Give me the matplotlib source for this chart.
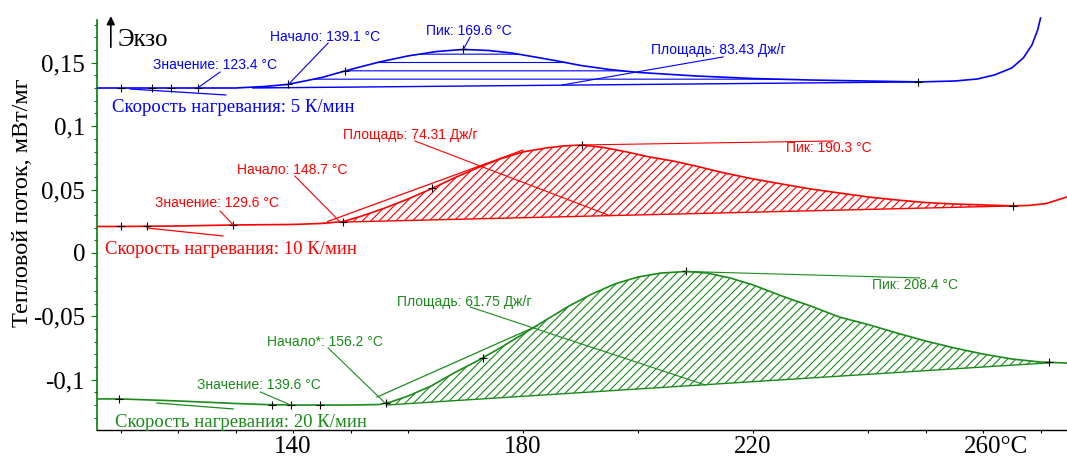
import numpy as np
import matplotlib
matplotlib.use("Agg")
import matplotlib.pyplot as plt

# ---------------- data: DSC curves, heat flow (mW/mg) vs temperature (°C) ----------------
t_5 = [105.9, 110, 120, 130, 135, 139, 142, 145, 149, 152, 155, 160, 165, 169.6, 174, 178,
       182, 186, 190, 195, 200, 210, 220, 230, 240, 249, 255, 259, 262, 265, 267, 268.5,
       269.5, 270]
q_5 = [0.1301, 0.1301, 0.1301, 0.1301, 0.1313, 0.1329, 0.1356, 0.1384, 0.1435, 0.1471,
       0.1506, 0.1554, 0.1589, 0.1605, 0.1597, 0.1577, 0.1546, 0.1514, 0.1479, 0.1447,
       0.1424, 0.1396, 0.1376, 0.1364, 0.1356, 0.1349, 0.1356, 0.1372, 0.1404, 0.1459,
       0.1538, 0.1640, 0.1759, 0.1853]

t_10 = [105.9, 110, 120, 130, 140, 145, 148.7, 152, 156, 160, 164, 168, 172, 176, 180, 184,
        187, 190.3, 194, 198, 202, 206, 210, 215, 220, 225, 230, 235, 240, 245, 250, 255,
        260, 265.2, 268, 271, 274.6]
q_10 = [0.0209, 0.0209, 0.0213, 0.0221, 0.0225, 0.0233, 0.0248, 0.0292, 0.0355, 0.0426,
        0.0505, 0.0591, 0.0670, 0.0741, 0.0797, 0.0828, 0.0844, 0.0852, 0.0832, 0.0797,
        0.0757, 0.0726, 0.0686, 0.0631, 0.0584, 0.0544, 0.0505, 0.0473, 0.0442, 0.0418,
        0.0398, 0.0386, 0.0379, 0.0371, 0.0375, 0.0390, 0.0442]

t_20 = [105.9, 110, 120, 130, 135, 140, 150, 155, 157, 160, 164, 168, 172, 176, 180, 184,
        188, 192, 196, 200, 204, 208.4, 212, 216, 220, 225, 230, 235, 240, 245, 250, 255,
        260, 265, 270, 274.6]
q_20 = [-0.1151, -0.1151, -0.1167, -0.1187, -0.1195, -0.1199, -0.1199, -0.1195, -0.1175,
        -0.1128, -0.1049, -0.0946, -0.0852, -0.0749, -0.0639, -0.0528, -0.0418, -0.0323,
        -0.0244, -0.0189, -0.0158, -0.0146, -0.0158, -0.0197, -0.0252, -0.0339, -0.0418,
        -0.0505, -0.0564, -0.0631, -0.0694, -0.0749, -0.0797, -0.0836, -0.0860, -0.0868]

# characteristic temperatures and peak areas
value_t = [123.4, 129.6, 139.6]
onset_t = [139.1, 148.7, 156.2]
peak_t = [169.6, 190.3, 208.4]
areas = [83.43, 74.31, 61.75]
rates = [5, 10, 20]

# integration limits (°C) and baseline end values (mW/mg)
int_start = [133.0, 148.7, 156.2]
int_end = [248.7, 265.2, 271.5]
base_start = [0.1301, 0.0244, -0.1199]
base_end = [0.1349, 0.0371, -0.0866]

# extra evaluation marks on each curve (°C)
marks_5 = [110, 115.5, 118.8, 149.0]
marks_10 = [110, 114.6, 164.2]
marks_20 = [109.7, 136.3, 144.7, 173.0]

x_major = [140, 180, 220, 260]
x_major_labels = ["140", "180", "220", ""]
x_minor = [110, 120, 130, 150, 160, 200, 240, 250, 270]
y_major = [-0.1, -0.05, 0, 0.05, 0.1, 0.15]
y_major_labels = ["-0,1", "-0,05", "0", "0,05", "0,1", "0,15"]
y_minor = [-0.13, -0.12, -0.11, -0.09, -0.08, -0.07, -0.06, -0.04, -0.03, -0.02, -0.01,
           0.01, 0.02, 0.03, 0.04, 0.06, 0.07, 0.08, 0.09, 0.11, 0.12, 0.13, 0.14,
           0.16, 0.17, 0.18]

# ---------------- styling ----------------
BLUE, RED, GREEN = "#0000ff", "#ff0000", "#1a8a1a"
SERIF = "Liberation Serif"
SANS = "Liberation Sans"
plt.rcParams["hatch.linewidth"] = 0.8

fig = plt.figure(figsize=(10.67, 4.57), dpi=100)
ax = fig.add_axes([97 / 1067, 27 / 457, 970 / 1067, 430 / 457])
ax.set_xlim(105.9, 274.6)
ax.set_ylim(-0.1396, 0.1995)

for s in ("top", "right"):
    ax.spines[s].set_visible(False)
ax.spines["left"].set_color("#008000")
ax.spines["left"].set_linewidth(1.2)
ax.spines["left"].set_bounds(-0.1396, 0.1838)
ax.spines["bottom"].set_color("black")
ax.spines["bottom"].set_linewidth(1.0)

ax.set_xticks(x_major, x_major_labels)
ax.set_xticks(x_minor, minor=True)
ax.set_yticks(y_major, y_major_labels)
ax.set_yticks(y_minor, minor=True)
ax.tick_params(axis="x", which="both", direction="out", length=2.5, width=0.8,
               color="black", pad=1.5, labelsize=18, labelfontfamily=SERIF)
ax.tick_params(axis="y", which="major", direction="out", length=4, width=0.8,
               color="#008000", pad=4.5, labelsize=18, labelfontfamily=SERIF)
ax.tick_params(axis="y", which="minor", direction="out", length=2.5, width=0.8,
               color="#008000")
ax.annotate("260°C", xy=(260, 0), xycoords=("data", "axes fraction"),
            xytext=(-13.5, -4), textcoords="offset points", ha="left", va="top",
            fontsize=18, family=SERIF)

fig.text(23 / 1067, 1 - 203 / 457, "Тепловой поток, мВт/мг", rotation=90,
         ha="center", va="center", fontsize=17.5, family=SERIF)

curves = [(t_5, q_5, BLUE, "--", marks_5), (t_10, q_10, RED, "////", marks_10),
          (t_20, q_20, GREEN, "////", marks_20)]

for i, (t, q, col, hatch, marks) in enumerate(curves):
    t = np.asarray(t, float)
    q = np.asarray(q, float)
    a, b = int_start[i], int_end[i]
    inside = (t > a) & (t < b)
    tx = np.concatenate([[a], t[inside], [b]])
    qx = np.interp(tx, t, q)
    bx = np.interp(tx, [a, b], [base_start[i], base_end[i]])
    ax.fill_between(tx, qx, bx, facecolor="none", edgecolor=col, hatch=hatch,
                    linewidth=0, zorder=1)
    ax.plot([a, b], [base_start[i], base_end[i]], color=col, lw=1.0, zorder=2)
    ax.plot(t, q, color=col, lw=1.2, zorder=3)
    pts = list(marks) + [value_t[i], onset_t[i], peak_t[i], b]
    ax.plot(pts, np.interp(pts, t, q), "k+", ms=6, mew=0.8, zorder=4)

# onset tangents and short extrapolation lines
tangents = [
    ([111.7, 128.3], [0.1293, 0.1246], BLUE),
    ([114.6, 127.8], [0.0197, 0.0134], RED),
    ([116.3, 129.6], [-0.1183, -0.1230], GREEN),
    ([146.0, 180.0], [0.0248, 0.0812], RED),
    ([154.6, 182.4], [-0.1136, -0.0576], GREEN),
]
for tx, qy, col in tangents:
    ax.plot(tx, qy, color=col, lw=0.9, zorder=2)

# annotation labels: (text position, leader start, leader end)
def note(text, pos, p0, p1, col):
    ax.text(pos[0], pos[1], text, color=col, fontsize=10, family=SANS,
            ha="left", va="center", zorder=5)
    ax.plot([p0[0], p1[0]], [p0[1], p1[1]], color=col, lw=0.8, zorder=5)

def fmt(v):
    return f"{v:.1f} °C"

# 5 K/min
note("Значение: " + fmt(value_t[0]), (115.6, 0.1483), (127.3, 0.1427), (value_t[0], 0.1301), BLUE)
note("Начало: " + fmt(onset_t[0]), (136.0, 0.1703), (146.1, 0.1656), (onset_t[0], 0.1325), BLUE)
note("Пик: " + fmt(peak_t[0]), (163.1, 0.1751), (170.8, 0.1703), (peak_t[0], 0.1605), BLUE)
note(f"Площадь: {areas[0]:.2f} Дж/г", (202.3, 0.1601), (214.8, 0.1546), (186.8, 0.1325), BLUE)
# 10 K/min
note("Значение: " + fmt(value_t[1]), (116.0, 0.0394), (127.3, 0.0331), (value_t[1], 0.0221), RED)
note("Начало: " + fmt(onset_t[1]), (130.3, 0.0655), (140.3, 0.0607), (148.2, 0.0244), RED)
note(f"Площадь: {areas[1]:.2f} Дж/г", (148.7, 0.0931), (161.2, 0.0883), (195.1, 0.0294), RED)
note("Пик: " + fmt(peak_t[1]), (225.7, 0.0830), (peak_t[1], 0.0852), (233.9, 0.0883), RED)
# 20 K/min
note("Значение: " + fmt(value_t[2]), (123.3, -0.1041), (134.3, -0.1096), (value_t[2], -0.1199), GREEN)
note("Начало*: " + fmt(onset_t[2]), (135.5, -0.0702), (146.1, -0.0749), (156.0, -0.1183), GREEN)
note(f"Площадь: {areas[2]:.2f} Дж/г", (158.1, -0.0386), (170.8, -0.0426), (211.7, -0.1041), GREEN)
note("Пик: " + fmt(peak_t[2]), (240.7, -0.0252), (peak_t[2], -0.0146), (249.0, -0.0197), GREEN)

# heating-rate captions
captions = [(108.5, 0.1144, BLUE), (107.3, 0.0024, RED), (109.0, -0.1333, GREEN)]
for (x, y, col), r in zip(captions, rates):
    ax.text(x, y, f"Скорость нагревания: {r} К/мин", color=col, fontsize=13.5,
            family=SERIF, ha="left", va="center")

# exotherm direction marker
ax.annotate("", xy=(108.3, 0.1890), xytext=(108.3, 0.1600),
            arrowprops=dict(arrowstyle="-|>", color="black", lw=1.2, mutation_scale=12))
ax.text(109.4, 0.1680, "Экзо", fontsize=18, family=SERIF, ha="left", va="center")

fig.savefig("out.png", dpi=100)
